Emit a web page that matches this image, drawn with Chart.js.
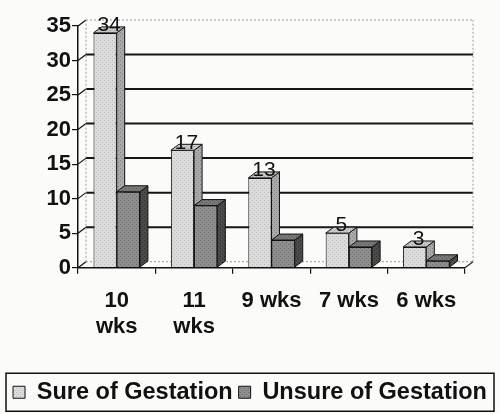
<!DOCTYPE html>
<html lang="en">
<head>
<meta charset="UTF-8" />
<title>Gestation</title>
<script src="https://cdn.jsdelivr.net/npm/chart.js"></script>
<style>
  html, body { margin: 0; padding: 0; background: #fbfbf9; }
  #wrap { width: 500px; height: 414px; }
</style>
</head>
<body>
<div id="wrap"><canvas id="gestChart" width="500" height="414"></canvas></div>
<script>
// data
const categories = [['10', 'wks'], ['11', 'wks'], '9 wks', '7 wks', '6 wks']
const sureValues = [34, 17, 13, 5, 3]
const unsureValues = [11, 9, 4, 3, 1]
const yMax = 35
const yStep = 5

// 3D depth offset of the bars / back wall
const DX = 8
const DY = -6

// small dotted fill like the scanned print
function dotPattern(base, dot) {
  const c = document.createElement('canvas')
  c.width = 4
  c.height = 4
  const g = c.getContext('2d')
  g.fillStyle = base
  g.fillRect(0, 0, 4, 4)
  g.fillStyle = dot
  g.fillRect(0, 0, 1, 1)
  g.fillRect(2, 2, 1, 1)
  return g.createPattern(c, 'repeat')
}

const sureFront = dotPattern('#dcdcdc', '#b8b8b8')
const sureSide = dotPattern('#a9a9a9', '#808080')
const sureTop = dotPattern('#c9c9c9', '#a0a0a0')
const unsureFront = dotPattern('#8e8e8e', '#6a6a6a')
const unsureSide = dotPattern('#4a4a4a', '#303030')
const unsureTop = dotPattern('#787878', '#5a5a5a')

const FONT = '"Liberation Sans", Arial, sans-serif'

// back wall, gridlines and floor
const backWall = {
  id: 'backWall',
  beforeDatasetsDraw(chart) {
    const ctx = chart.ctx
    const { left, right, top, bottom } = chart.chartArea
    const y = chart.scales.y
    ctx.save()
    for (let v = 0; v <= yMax; v += yStep) {
      const py = y.getPixelForValue(v)
      // connector from tick to back wall
      ctx.strokeStyle = '#111'
      ctx.lineWidth = 1.2
      ctx.setLineDash([])
      ctx.beginPath()
      ctx.moveTo(left, py)
      ctx.lineTo(left + DX, py + DY)
      ctx.stroke()
      if (v === 0 || v === yMax) {
        ctx.strokeStyle = '#9a9a9a'
        ctx.lineWidth = 1
        ctx.setLineDash([2, 2])
      } else {
        ctx.strokeStyle = '#161616'
        ctx.lineWidth = 2
        ctx.setLineDash([])
      }
      ctx.beginPath()
      ctx.moveTo(left + DX, py + DY)
      ctx.lineTo(right + DX, py + DY)
      ctx.stroke()
    }
    // wall edges
    ctx.strokeStyle = '#9a9a9a'
    ctx.lineWidth = 1
    ctx.setLineDash([2, 2])
    ctx.beginPath()
    ctx.moveTo(left + DX, bottom + DY)
    ctx.lineTo(left + DX, top + DY)
    ctx.moveTo(right + DX, bottom + DY)
    ctx.lineTo(right + DX, top + DY)
    ctx.stroke()
    // floor edge
    ctx.setLineDash([])
    ctx.strokeStyle = '#222'
    ctx.lineWidth = 1.2
    ctx.beginPath()
    ctx.moveTo(right, bottom)
    ctx.lineTo(right + DX, bottom + DY)
    ctx.stroke()
    ctx.restore()
  }
}

function drawFaces(ctx, meta, side, topFill) {
  ctx.save()
  ctx.strokeStyle = '#111'
  ctx.lineWidth = 1
  meta.data.forEach(bar => {
    const x0 = bar.x - bar.width / 2
    const x1 = bar.x + bar.width / 2
    const t = bar.y
    const b = bar.base
    ctx.fillStyle = side
    ctx.beginPath()
    ctx.moveTo(x1, b)
    ctx.lineTo(x1 + DX, b + DY)
    ctx.lineTo(x1 + DX, t + DY)
    ctx.lineTo(x1, t)
    ctx.closePath()
    ctx.fill()
    ctx.stroke()
    ctx.fillStyle = topFill
    ctx.beginPath()
    ctx.moveTo(x0, t)
    ctx.lineTo(x0 + DX, t + DY)
    ctx.lineTo(x1 + DX, t + DY)
    ctx.lineTo(x1, t)
    ctx.closePath()
    ctx.fill()
    ctx.stroke()
  })
  ctx.restore()
}

// side and top faces; the unsure front is redrawn over the sure side
const depth3d = {
  id: 'depth3d',
  afterDatasetsDraw(chart) {
    const ctx = chart.ctx
    const sureMeta = chart.getDatasetMeta(0)
    const unsureMeta = chart.getDatasetMeta(1)
    drawFaces(ctx, sureMeta, sureSide, sureTop)
    unsureMeta.data.forEach(bar => bar.draw(ctx))
    drawFaces(ctx, unsureMeta, unsureSide, unsureTop)
  }
}

// value labels on the "sure" bars + legend frame
const labelsAndFrame = {
  id: 'labelsAndFrame',
  afterDraw(chart) {
    const ctx = chart.ctx
    ctx.save()
    ctx.fillStyle = '#111'
    ctx.font = '21px ' + FONT
    ctx.textAlign = 'center'
    ctx.textBaseline = 'bottom'
    chart.getDatasetMeta(0).data.forEach((bar, i) => {
      ctx.fillText(String(sureValues[i]), bar.x + DX / 2, bar.y + 3)
    })
    const hb = chart.legend.legendHitBoxes[0]
    if (hb) {
      const cy = hb.top + hb.height / 2
      ctx.strokeStyle = '#111'
      ctx.lineWidth = 1.5
      ctx.strokeRect(6, cy - 19, 488, 38)
    }
    ctx.restore()
  }
}

const ctx = document.getElementById('gestChart').getContext('2d')
new Chart(ctx, {
  type: 'bar',
  data: {
    labels: categories,
    datasets: [
      {
        label: 'Sure of Gestation',
        data: sureValues,
        backgroundColor: sureFront,
        borderColor: '#111',
        borderWidth: 1
      },
      {
        label: 'Unsure of Gestation',
        data: unsureValues,
        backgroundColor: unsureFront,
        borderColor: '#111',
        borderWidth: 1
      }
    ]
  },
  options: {
    responsive: false,
    animation: false,
    layout: { padding: { left: 0, right: 0, top: 26, bottom: 0 } },
    datasets: {
      bar: { categoryPercentage: 0.6, barPercentage: 1.0 }
    },
    scales: {
      x: {
        grid: {
          display: true,
          drawOnChartArea: false,
          drawTicks: true,
          tickLength: 6,
          color: '#111',
          lineWidth: 1.2
        },
        border: { color: '#111', width: 1.5 },
        ticks: {
          color: '#111',
          padding: 14,
          maxRotation: 0,
          autoSkip: false,
          font: { family: FONT, size: 22, weight: 'bold', lineHeight: 1.2 }
        },
        afterFit(scale) {
          scale.height += 20
        }
      },
      y: {
        min: 0,
        max: yMax,
        grid: {
          display: true,
          drawOnChartArea: false,
          drawTicks: true,
          tickLength: 6,
          color: '#111',
          lineWidth: 1.2
        },
        border: { color: '#111', width: 1.5 },
        ticks: {
          stepSize: yStep,
          autoSkip: false,
          color: '#111',
          padding: 1,
          font: { family: FONT, size: 22, weight: 'bold' }
        },
        afterFit(scale) {
          scale.width = 78
        }
      },
      yRight: {
        position: 'right',
        display: true,
        grid: { display: false },
        border: { display: false },
        ticks: { display: false },
        afterFit(scale) {
          scale.width = 35
        }
      }
    },
    plugins: {
      legend: {
        position: 'bottom',
        labels: {
          boxWidth: 12,
          boxHeight: 12,
          padding: 6,
          color: '#111',
          font: { family: FONT, size: 23.5, weight: 'bold' }
        }
      },
      tooltip: { enabled: false }
    }
  },
  plugins: [backWall, depth3d, labelsAndFrame]
})
</script>
</body>
</html>
